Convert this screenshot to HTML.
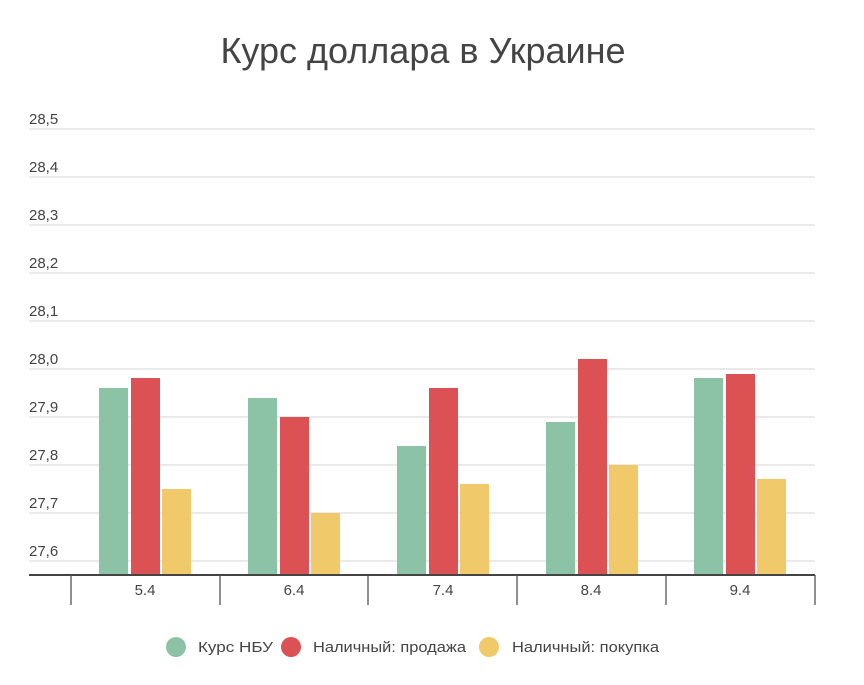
<!DOCTYPE html>
<html><head><meta charset="utf-8"><style>body{margin:0;background:#fff}svg{display:block}</style></head><body>
<svg width="864" height="685" xmlns="http://www.w3.org/2000/svg" font-family="Liberation Sans, sans-serif">
<rect width="864" height="685" fill="#fff"/>
<text x="423" y="63" text-anchor="middle" font-size="36" fill="#444">Курс доллара в Украине</text>
<g stroke="#dedede" stroke-width="1.2">
<line x1="29" x2="815" y1="129" y2="129"/><line x1="29" x2="815" y1="177" y2="177"/><line x1="29" x2="815" y1="225" y2="225"/><line x1="29" x2="815" y1="273" y2="273"/><line x1="29" x2="815" y1="321" y2="321"/><line x1="29" x2="815" y1="369" y2="369"/><line x1="29" x2="815" y1="417" y2="417"/><line x1="29" x2="815" y1="465" y2="465"/><line x1="29" x2="815" y1="513" y2="513"/><line x1="29" x2="815" y1="561" y2="561"/>
</g>
<g font-size="15" fill="#444">
<text x="29" y="124">28,5</text><text x="29" y="172">28,4</text><text x="29" y="220">28,3</text><text x="29" y="268">28,2</text><text x="29" y="316">28,1</text><text x="29" y="364">28,0</text><text x="29" y="412">27,9</text><text x="29" y="460">27,8</text><text x="29" y="508">27,7</text><text x="29" y="556">27,6</text>
</g>
<g>
<rect x="99" y="388" width="29" height="186" fill="#8cc3a7"/><rect x="131" y="378" width="29" height="196" fill="#dc5153"/><rect x="162" y="489" width="29" height="85" fill="#efc96a"/>
<rect x="248" y="398" width="29" height="176" fill="#8cc3a7"/><rect x="280" y="417" width="29" height="157" fill="#dc5153"/><rect x="311" y="513" width="29" height="61" fill="#efc96a"/>
<rect x="397" y="446" width="29" height="128" fill="#8cc3a7"/><rect x="429" y="388" width="29" height="186" fill="#dc5153"/><rect x="460" y="484" width="29" height="90" fill="#efc96a"/>
<rect x="546" y="422" width="29" height="152" fill="#8cc3a7"/><rect x="578" y="359" width="29" height="215" fill="#dc5153"/><rect x="609" y="465" width="29" height="109" fill="#efc96a"/>
<rect x="694" y="378" width="29" height="196" fill="#8cc3a7"/><rect x="726" y="374" width="29" height="200" fill="#dc5153"/><rect x="757" y="479" width="29" height="95" fill="#efc96a"/>
</g>
<line x1="29" x2="815" y1="575" y2="575" stroke="#444" stroke-width="2"/>
<g stroke="#555" stroke-width="1.3">
<line x1="71" x2="71" y1="575" y2="605"/><line x1="220" x2="220" y1="575" y2="605"/><line x1="368" x2="368" y1="575" y2="605"/><line x1="517" x2="517" y1="575" y2="605"/><line x1="666" x2="666" y1="575" y2="605"/><line x1="815" x2="815" y1="575" y2="605"/>
</g>
<g font-size="15" fill="#444" text-anchor="middle">
<text x="145" y="595">5.4</text><text x="294" y="595">6.4</text><text x="443" y="595">7.4</text><text x="591" y="595">8.4</text><text x="740" y="595">9.4</text>
</g>
<circle cx="176" cy="647" r="10" fill="#8cc3a7"/><circle cx="291" cy="647" r="10" fill="#dc5153"/><circle cx="489" cy="647" r="10" fill="#efc96a"/>
<g font-size="15" fill="#444">
<text x="198" y="652" textLength="75" lengthAdjust="spacingAndGlyphs">Курс НБУ</text>
<text x="313" y="652" textLength="153" lengthAdjust="spacingAndGlyphs">Наличный: продажа</text>
<text x="512" y="652" textLength="147" lengthAdjust="spacingAndGlyphs">Наличный: покупка</text>
</g>
</svg>
</body></html>
